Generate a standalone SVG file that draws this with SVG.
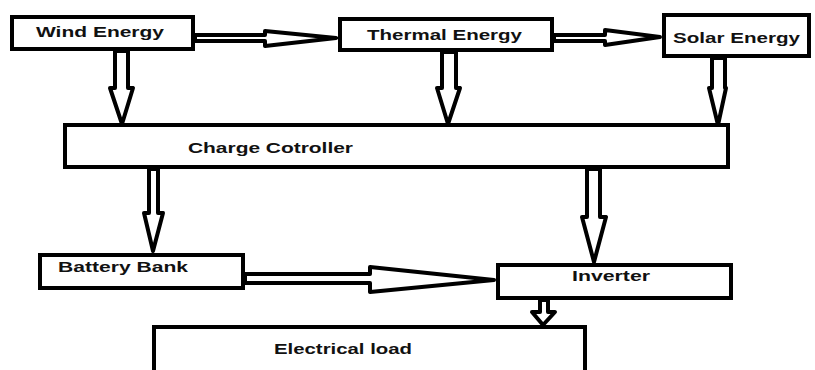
<svg xmlns="http://www.w3.org/2000/svg" width="815" height="370" viewBox="0 0 815 370">
<style>
.box{fill:#fff;stroke:#000;stroke-width:4}
.arr{fill:#fff;stroke:#000;stroke-width:4;stroke-linejoin:round}
.t{font-family:"Liberation Sans",Arial,sans-serif;font-weight:bold;font-size:15px;fill:#111}
</style>
<rect width="815" height="370" fill="#fff"/>
<g id="connectors">
<polygon class="arr" points="195,35 265,35 265,31 336,38 265,46 265,41 195,41"/>
<line x1="334" y1="38" x2="340" y2="38" stroke="#000" stroke-width="2"/>
<polygon class="arr" points="554,35 605,35 605,30 660,37 605,45 605,41 554,41"/>
<polygon class="arr" points="245,274 370,274 370,267 494,280 370,292 370,283 245,283"/>
<polygon class="arr" points="115,51 115,88 110,88 122,124 133,88 128,88 128,51"/>
<polygon class="arr" points="442,52 442,88 437,88 448,124 460,88 456,88 456,52"/>
<polygon class="arr" points="712,58 712,88 709,88 718,125 726,88 725,88 725,58"/>
<polygon class="arr" points="149,169 149,213 144,213 153,251 163,213 158,213 158,169"/>
<polygon class="arr" points="587,169 587,217 582,217 594,262 606,217 600,217 600,169"/>
<polygon class="arr" points="540,300 540,312 532,312 543,325 555,312 548,312 548,300"/>
</g>
<g id="wind"><rect class="box" x="12" y="17" width="181" height="32"/><text class="t" x="36" y="37" textLength="128" lengthAdjust="spacingAndGlyphs">Wind Energy</text></g>
<g id="thermal"><rect class="box" x="340" y="19" width="212" height="31"/><text class="t" x="367" y="40" textLength="155" lengthAdjust="spacingAndGlyphs">Thermal Energy</text></g>
<g id="solar"><rect class="box" x="664" y="15" width="145" height="41"/><text class="t" x="673" y="43" textLength="127" lengthAdjust="spacingAndGlyphs">Solar Energy</text></g>
<g id="charge"><rect class="box" x="65" y="125" width="663" height="42"/><text class="t" x="188" y="153" textLength="165" lengthAdjust="spacingAndGlyphs">Charge Cotroller</text></g>
<g id="battery"><rect class="box" x="40" y="255" width="203" height="33"/><text class="t" x="58" y="272" textLength="130" lengthAdjust="spacingAndGlyphs">Battery Bank</text></g>
<g id="inverter"><rect class="box" x="498" y="265" width="233" height="33"/><text class="t" x="572" y="281" textLength="78" lengthAdjust="spacingAndGlyphs">Inverter</text></g>
<g id="load"><rect class="box" x="154" y="327" width="431" height="60"/><text class="t" x="274" y="354" textLength="138" lengthAdjust="spacingAndGlyphs">Electrical load</text></g>
</svg>
